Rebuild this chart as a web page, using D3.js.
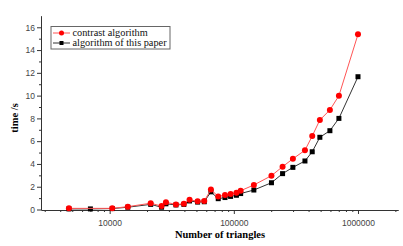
<!DOCTYPE html>
<html>
<head>
<meta charset="utf-8">
<script src="https://cdn.jsdelivr.net/npm/d3@7"></script>
<style>
  body { margin: 0; background: #fff; }
  .tick text { font-family: "Liberation Sans", Arial, sans-serif; font-size: 8.5px; fill: #444; }
  .axis path, .axis line { stroke: #333; }
</style>
</head>
<body>
<div class="chart"></div>
<script>
// number of triangles (x) and times in seconds
const redX = [4700, 10500, 14000, 21400, 26200, 28400, 34200, 39600, 44000, 51100, 57800, 65400, 74900, 84900, 94200, 105000, 113500, 145000, 201000, 247000, 299000, 374000, 428000, 493000, 594000, 702000, 1000000];
const redY = [0.1, 0.1, 0.25, 0.55, 0.3, 0.63, 0.45, 0.5, 0.86, 0.72, 0.75, 1.75, 1.14, 1.27, 1.36, 1.47, 1.65, 2.15, 2.97, 3.76, 4.45, 5.2, 6.45, 7.86, 8.74, 9.99, 15.38];
const blackX = [4700, 7000, 10500, 14000, 21400, 26200, 28400, 34200, 39600, 44000, 51100, 57800, 65400, 74900, 84900, 94200, 105000, 113500, 145000, 201000, 247000, 299000, 374000, 428000, 493000, 594000, 702000, 1000000];
const blackY = [0.05, 0.05, 0.08, 0.2, 0.45, 0.2, 0.5, 0.4, 0.45, 0.75, 0.65, 0.68, 1.55, 0.95, 1.05, 1.15, 1.25, 1.4, 1.71, 2.35, 3.15, 3.7, 4.26, 5.07, 6.34, 6.92, 8.0, 11.66];
const seriesNames = ["contrast algorithm", "algorithm of this paper"];
const xMajor = [10000, 100000, 1000000];
const yMajor = [0, 2, 4, 6, 8, 10, 12, 14, 16];

const W = 403, H = 246;
const svg = d3.select(".chart").append("svg")
    .attr("width", W).attr("height", H);

const x = d3.scaleLog().domain([2800, 2100000]).range([41, 398]);
const y = d3.scaleLinear().domain([0, 17]).range([209.5, 15.9]);

// minor ticks
const xMinor = [];
[1000, 10000, 100000, 1000000].forEach(d => {
    for (let k = 2; k <= 9; k++) {
        const v = d * k;
        if (v > 2800 && v < 2100000 && !xMajor.includes(v)) xMinor.push(v);
    }
});
const yMinor = d3.range(1, 17, 2);

svg.append("g").attr("class", "axis")
    .attr("transform", "translate(0,210)")
    .call(d3.axisBottom(x).tickValues(xMinor).tickSize(2).tickFormat("").tickSizeOuter(0));
svg.append("g").attr("class", "axis")
    .attr("transform", "translate(0,210)")
    .call(d3.axisBottom(x).tickValues(xMajor).tickSize(4).tickSizeOuter(0).tickFormat(d3.format("d")))
    .selectAll("text").attr("dy", "1.05em");

svg.append("g").attr("class", "axis")
    .attr("transform", "translate(41,0)")
    .call(d3.axisLeft(y).tickValues(yMinor).tickSize(2).tickFormat("").tickSizeOuter(0));
svg.append("g").attr("class", "axis")
    .attr("transform", "translate(41,0)")
    .call(d3.axisLeft(y).tickValues(yMajor).tickSize(4).tickSizeOuter(0))
    .selectAll("text").attr("x", -6);

// axis titles
svg.append("text")
    .attr("x", 220).attr("y", 238)
    .attr("text-anchor", "middle")
    .style("font-family", "'Liberation Serif', 'Times New Roman', serif")
    .style("font-weight", "bold").style("font-size", "10.5px")
    .text("Number of triangles");
svg.append("text")
    .attr("transform", "translate(18,118) rotate(-90)")
    .attr("text-anchor", "middle")
    .style("font-family", "'Liberation Serif', 'Times New Roman', serif")
    .style("font-weight", "bold").style("font-size", "10.5px")
    .text("time /s");

const line = d3.line().x(d => x(d[0])).y(d => y(d[1]));
const black = blackX.map((v, i) => [v, blackY[i]]);
const red = redX.map((v, i) => [v, redY[i]]);

svg.append("path").datum(black)
    .attr("fill", "none").attr("stroke", "#333").attr("stroke-width", 1)
    .attr("d", line);
svg.selectAll(".sq").data(black).enter().append("rect")
    .attr("x", d => x(d[0]) - 2.5).attr("y", d => y(d[1]) - 2.5)
    .attr("width", 5).attr("height", 5).attr("fill", "#000");

svg.append("path").datum(red)
    .attr("fill", "none").attr("stroke", "#f55").attr("stroke-width", 1)
    .attr("d", line);
svg.selectAll(".dot").data(red).enter().append("circle")
    .attr("cx", d => x(d[0])).attr("cy", d => y(d[1]))
    .attr("r", 3).attr("fill", "#f00");

// legend
const lg = svg.append("g");
lg.append("rect").attr("x", 51).attr("y", 26.5).attr("width", 119).attr("height", 22.5)
    .attr("fill", "#fff").attr("stroke", "#666").attr("stroke-width", 1);
seriesNames.forEach((name, i) => {
    const yy = 33 + i * 10;
    lg.append("line").attr("x1", 53).attr("x2", 70).attr("y1", yy).attr("y2", yy)
        .attr("stroke", i === 0 ? "#f55" : "#333");
    if (i === 0) {
        lg.append("circle").attr("cx", 61.5).attr("cy", yy).attr("r", 2.5).attr("fill", "#f00");
    } else {
        lg.append("rect").attr("x", 59.5).attr("y", yy - 2).attr("width", 4).attr("height", 4).attr("fill", "#000");
    }
    lg.append("text").attr("x", 72.5).attr("y", yy + 3.3)
        .style("font-family", "'Liberation Serif', 'Times New Roman', serif")
        .style("font-size", "10.3px").attr("fill", "#111")
        .text(name);
});
</script>
</body>
</html>
